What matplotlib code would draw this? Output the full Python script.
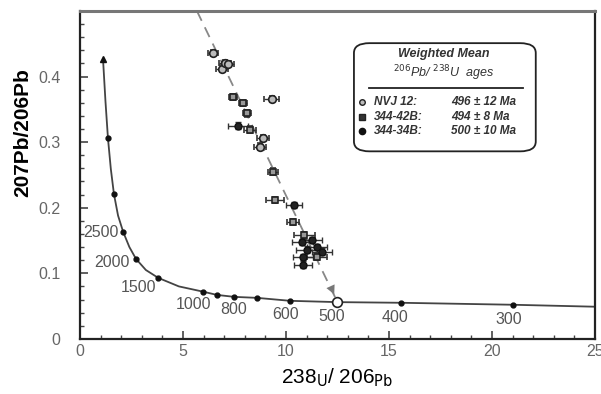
import matplotlib
matplotlib.use("Agg")
import matplotlib.pyplot as plt
from matplotlib.patches import FancyBboxPatch
import numpy as np

plt.rcParams['font.family'] = ['Liberation Sans', 'DejaVu Sans']

# concordia curve and its age marks
curve_x = [1.12, 1.24, 1.36, 1.5, 1.65, 1.85, 2.1, 2.4, 2.72, 3.2, 3.8, 4.8, 5.97, 6.65, 7.5, 8.6, 10.2, 12.5, 15.6, 21.0, 25.0]
curve_y = [0.427, 0.362, 0.306, 0.259, 0.221, 0.188, 0.163, 0.140, 0.122, 0.105, 0.093, 0.080, 0.072, 0.067, 0.064, 0.0625, 0.058, 0.056, 0.055, 0.052, 0.049]
mark_x = [1.36, 1.65, 2.1, 2.72, 3.8, 5.97, 6.65, 7.5, 8.6, 10.2, 15.6, 21.0]
mark_y = [0.306, 0.221, 0.163, 0.122, 0.093, 0.072, 0.067, 0.064, 0.0625, 0.058, 0.055, 0.052]

age_labels = ['2500', '2000', '1500', '1000', '800', '600', '500', '400', '300']
age_lab_x = [1.02, 1.55, 2.82, 5.49, 7.48, 10.0, 12.23, 15.3, 20.8]
age_lab_y = [0.162, 0.117, 0.078, 0.052, 0.044, 0.037, 0.034, 0.032, 0.029]

# discordia line
disc_x = [5.68, 12.5]
disc_y = [0.50, 0.056]

# samples
nvj_x = [6.46, 6.9, 7.04, 7.2, 8.74, 8.9, 9.3]
nvj_y = [0.436, 0.412, 0.421, 0.419, 0.293, 0.306, 0.366]
nvj_err = [0.25, 0.3, 0.3, 0.3, 0.3, 0.3, 0.35]

s42_x = [7.43, 7.9, 8.1, 8.25, 9.37, 9.47, 10.35, 10.9, 11.5]
s42_y = [0.369, 0.36, 0.344, 0.319, 0.255, 0.212, 0.178, 0.158, 0.125]
s42_err = [0.2, 0.2, 0.2, 0.3, 0.25, 0.45, 0.3, 0.5, 0.5]

s34_x = [7.67, 10.4, 10.8, 11.26, 11.5, 11.0, 11.75, 10.83, 10.83]
s34_y = [0.325, 0.204, 0.148, 0.151, 0.14, 0.136, 0.133, 0.125, 0.113]
s34_err = [0.5, 0.4, 0.5, 0.5, 0.5, 0.5, 0.5, 0.5, 0.45]

fig = plt.figure(figsize=(6.01, 3.94), dpi=100)
ax = fig.add_axes([0.133, 0.140, 0.857, 0.832])

ax.plot(curve_x, curve_y, color='#444444', linewidth=1.3, zorder=2)
ax.plot(mark_x, mark_y, 'o', color='#111111', markersize=3.5, zorder=3)
ax.plot(curve_x[0], curve_y[0], '^', color='#111111', markersize=4.5, zorder=3)
for lab, lx, ly in zip(age_labels, age_lab_x, age_lab_y):
    ax.text(lx, ly, lab, color='#555555', fontsize=11.5, ha='center', va='center')

ax.plot(disc_x, disc_y, color='#888888', linestyle=(0, (6, 4)), linewidth=1.3, zorder=1)
ax.annotate('', xy=(12.4, 0.064), xytext=(11.8, 0.105),
            arrowprops=dict(arrowstyle='-|>', color='#777777', lw=0.01,
                            mutation_scale=16))
ax.plot(12.5, 0.056, 'o', markerfacecolor='white', markeredgecolor='#222222',
        markersize=7, markeredgewidth=1.2, zorder=5)

eb = dict(capsize=2, elinewidth=1.0, ecolor='#333333', linestyle='none', zorder=4)
ax.errorbar(nvj_x, nvj_y, xerr=nvj_err, yerr=0.005, fmt='o', markersize=5.5,
            markerfacecolor='#bbbbbb', markeredgecolor='#222222', markeredgewidth=1.2, **eb)
ax.errorbar(s42_x, s42_y, xerr=s42_err, yerr=0.005, fmt='s', markersize=5,
            markerfacecolor='#999999', markeredgecolor='#222222', markeredgewidth=1.2, **eb)
ax.errorbar(s34_x, s34_y, xerr=s34_err, yerr=0.005, fmt='o', markersize=5,
            markerfacecolor='#222222', markeredgecolor='#111111', **eb)

ax.set_xlim(0, 25)
ax.set_ylim(0, 0.5)
ax.set_xticks([0, 5, 10, 15, 20, 25])
ax.set_xticks(np.arange(0, 26, 1), minor=True)
ax.set_yticks([0, 0.1, 0.2, 0.3, 0.4])
ax.set_yticklabels(['0', '0.1', '0.2', '0.3', '0.4'])
ax.set_yticks(np.arange(0, 0.51, 0.02), minor=True)
ax.tick_params(which='both', direction='in', colors='#444444', labelcolor='#666666',
               labelsize=11.5)
ax.tick_params(which='major', length=6, width=1.2)
ax.tick_params(which='minor', length=3, width=1.0)
ax.tick_params(axis='y', pad=14)
for s in ['left', 'bottom', 'right']:
    ax.spines[s].set_color('#222222')
    ax.spines[s].set_linewidth(1.6)
ax.spines['top'].set_color('#777777')
ax.spines['top'].set_linewidth(2.2)

ax.set_ylabel('207Pb/206Pb', fontsize=15, fontweight='bold')
ax.yaxis.set_label_coords(-0.093, 0.63)
ax.set_xlabel(r'238$_{\mathrm{U}}$/ 206$_{\mathrm{Pb}}$', fontsize=15)
ax.xaxis.set_label_coords(0.5, -0.085)

# legend box
box = FancyBboxPatch((0.532, 0.572), 0.353, 0.330, boxstyle='round,pad=0,rounding_size=0.03',
                     transform=ax.transAxes, facecolor='white', edgecolor='#222222',
                     linewidth=1.3, zorder=6)
ax.add_patch(box)
ax.text(0.707, 0.868, 'Weighted Mean', transform=ax.transAxes, ha='center', va='center',
        fontsize=9, fontweight='bold', style='italic', color='#333333', zorder=7)
ax.text(0.707, 0.810, r'$^{206}$Pb/ $^{238}$U  ages', transform=ax.transAxes, ha='center',
        va='center', fontsize=9, style='italic', color='#333333', zorder=7)
ax.plot([0.562, 0.860], [0.765, 0.765], transform=ax.transAxes, color='#222222',
        linewidth=1.3, zorder=7)
rows = [('NVJ 12:', '496 ± 12 Ma'), ('344-42B:', '494 ± 8 Ma'), ('344-34B:', '500 ± 10 Ma')]
row_y = [0.722, 0.677, 0.634]
row_mk = [dict(marker='o', markerfacecolor='#bbbbbb', markeredgecolor='#222222', markersize=4),
          dict(marker='s', markerfacecolor='#333333', markeredgecolor='#222222', markersize=4),
          dict(marker='o', markerfacecolor='#111111', markeredgecolor='#111111', markersize=4.5)]
for (name, val), yy, mk in zip(rows, row_y, row_mk):
    ax.plot(0.548, yy, transform=ax.transAxes, zorder=7, **mk)
    ax.text(0.570, yy, name, transform=ax.transAxes, ha='left', va='center', fontsize=8.5,
            fontweight='bold', style='italic', color='#333333', zorder=7)
    ax.text(0.720, yy, val, transform=ax.transAxes, ha='left', va='center', fontsize=8.5,
            fontweight='bold', style='italic', color='#333333', zorder=7)

fig.savefig('out.png', dpi=100)
